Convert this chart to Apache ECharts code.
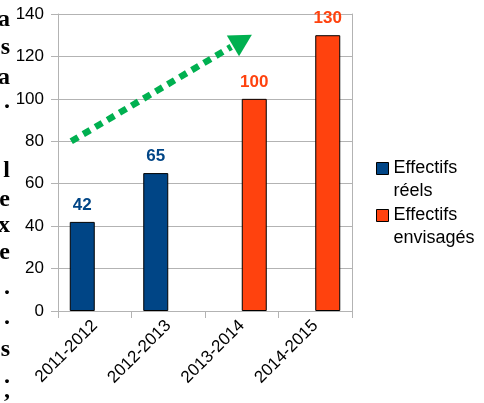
<!DOCTYPE html>
<html>
<head>
<meta charset="utf-8">
<script src="https://cdn.jsdelivr.net/npm/echarts@6/dist/echarts.min.js"></script>
<style>
html,body{margin:0;padding:0;background:#fff;}
#c{width:484px;height:403px;}
</style>
</head>
<body>
<div id="c"></div>
<script>
// ---- data ----
const categories = ['2011-2012', '2012-2013', '2013-2014', '2014-2015'];
const seriesNames = ['Effectifs réels', 'Effectifs envisagés'];
const reels = [42, 65, null, null];
const envisages = [null, null, 100, 130];
const yMin = 0, yMax = 140, yStep = 20;
// trend arrow (category index + band offset, value)
const arrowStart = [0, -0.32, 80];
const arrowEnd = [2, -0.12, 125];
// fragments of the surrounding page text cut off on the left edge
const sideChars = ['a', 's', 'a', '.', 'l', 'e', 'x', 'e', '.', '.', 's', '.', ','];
const sideBaselines = [32, 60, 90, 114, 183, 212, 238, 265, 300, 330, 362, 389, 403];

const FONT = '"Liberation Sans", Arial, sans-serif';
const GRID = '#b3b3b3';
const BLUE = '#004586';
const ORANGE = '#ff420e';

const chart = echarts.init(document.getElementById('c'), null, {renderer: 'canvas'});

const option = {
  animation: false,
  backgroundColor: '#fff',
  grid: {left: 58, right: 132, top: 14, bottom: 92, containLabel: false},
  legend: {
    orient: 'vertical',
    left: 371,
    top: 129,
    itemWidth: 12,
    itemHeight: 12,
    itemGap: -22,
    icon: 'rect',
    data: seriesNames,
    formatter: function (n) { return ' \n' + n.replace(' ', '\n'); },
    textStyle: {fontFamily: FONT, fontSize: 18, color: '#000', lineHeight: 23},
    itemStyle: {borderColor: '#000', borderWidth: 1}
  },
  xAxis: {
    type: 'category',
    data: categories,
    axisLine: {show: true, lineStyle: {color: GRID, width: 1}},
    axisTick: {show: true, length: 7, lineStyle: {color: GRID}},
    axisLabel: {rotate: 45, fontFamily: FONT, fontSize: 17, color: '#000', margin: 12}
  },
  yAxis: [{
    type: 'value',
    min: yMin, max: yMax, interval: yStep,
    axisLine: {show: true, lineStyle: {color: GRID, width: 1}},
    axisTick: {show: true, length: 7, lineStyle: {color: GRID}},
    splitLine: {show: true, lineStyle: {color: GRID, width: 1}},
    axisLabel: {fontFamily: FONT, fontSize: 17, color: '#000', margin: 14}
  }, {
    type: 'value',
    position: 'right',
    min: yMin, max: yMax, interval: yStep,
    axisLine: {show: true, lineStyle: {color: GRID, width: 1}},
    axisTick: {show: false},
    splitLine: {show: false},
    axisLabel: {show: false}
  }],
  series: [{
    name: seriesNames[0],
    type: 'bar',
    data: reels,
    barWidth: 25,
    barGap: '0%',
    itemStyle: {color: BLUE, borderColor: '#000', borderWidth: 1},
    label: {show: true, position: 'top', distance: 8, fontFamily: FONT, fontSize: 17, fontWeight: 'bold', color: BLUE}
  }, {
    name: seriesNames[1],
    type: 'bar',
    data: envisages,
    barWidth: 25,
    barGap: '0%',
    itemStyle: {color: ORANGE, borderColor: '#000', borderWidth: 1},
    label: {show: true, position: 'top', distance: 8, fontFamily: FONT, fontSize: 17, fontWeight: 'bold', color: ORANGE}
  }]
};
chart.setOption(option);

// arrow built from data coordinates
function toPx(p) {
  const c = chart.convertToPixel({xAxisIndex: 0}, categories[p[0]]);
  const c1 = chart.convertToPixel({xAxisIndex: 0}, categories[1]);
  const c0 = chart.convertToPixel({xAxisIndex: 0}, categories[0]);
  const band = c1 - c0;
  const y = chart.convertToPixel({yAxisIndex: 0}, p[2]);
  return [c + p[1] * band, y];
}
const a = toPx(arrowStart), b = toPx(arrowEnd);
const dx = b[0] - a[0], dy = b[1] - a[1];
const len = Math.sqrt(dx * dx + dy * dy);
const ux = dx / len, uy = dy / len;
const px = -uy, py = ux;
const headLen = 22, headHalf = 12;
const tip = [b[0] + ux * headLen, b[1] + uy * headLen];
const GREEN = '#00b050';

const graphics = [{
  type: 'line',
  shape: {x1: a[0], y1: a[1], x2: b[0] - ux * 2, y2: b[1] - uy * 2},
  style: {stroke: GREEN, lineWidth: 6.5, lineDash: [8, 6], lineCap: 'butt'},
  z: 10
}, {
  type: 'polygon',
  shape: {points: [tip, [b[0] + px * headHalf, b[1] + py * headHalf], [b[0] - px * headHalf, b[1] - py * headHalf]]},
  style: {fill: GREEN},
  z: 10
}];
sideChars.forEach(function (ch, i) {
  graphics.push({
    type: 'text',
    x: 10,
    y: sideBaselines[i],
    style: {text: ch, font: 'bold 24px "Liberation Serif", "DejaVu Serif", serif', fill: '#000', align: 'right', verticalAlign: 'bottom'},
    z: 10
  });
});
chart.setOption({graphic: graphics});
</script>
</body>
</html>
